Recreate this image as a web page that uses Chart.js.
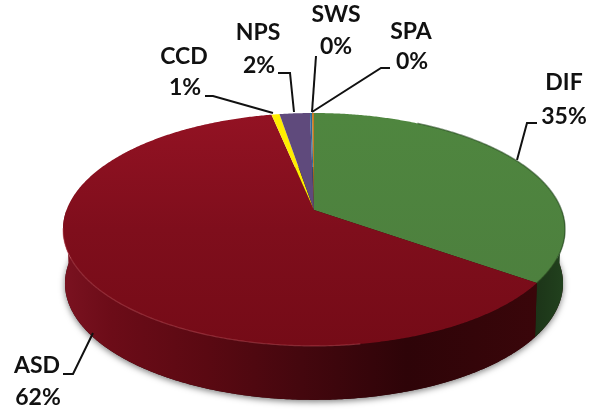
<!DOCTYPE html>
<html>
<head>
<meta charset="utf-8">
<style>html,body{margin:0;padding:0;background:#fff}canvas{display:block}</style>
<script src="https://cdn.jsdelivr.net/npm/chart.js@4"></script>
</head>
<body>
<canvas id="c" width="597" height="410"></canvas>
<script>
const categories = ['DIF', 'ASD', 'CCD', 'NPS', 'SWS', 'SPA'];
const shareValues = [34.9, 61.9, 0.6, 2.3, 0.15, 0.15];
const sliceColors = ['#4f843f', '#7f0e1c', '#ffee00', '#5f4a7c', '#2a6a9a', '#c77a20'];

// Label placement: text centres and leader-line vertices per category
const calloutLayout = {
  DIF: { name: [564, 83], pct: [564, 117], line: [[537, 123], [527, 123], [517, 160]] },
  ASD: { name: [37, 366], pct: [38, 398], line: [[63, 374], [73, 374], [93, 333]] },
  CCD: { name: [184, 57], pct: [185, 88], line: [[205, 96], [213, 96], [273, 113]] },
  NPS: { name: [258, 33], pct: [259, 66], line: [[278, 73], [290, 73], [294, 112]] },
  SWS: { name: [336, 15], pct: [336, 47], line: [[316, 56], [312, 112]] },
  SPA: { name: [411, 32], pct: [412, 62], line: [[390, 68], [381, 68], [312, 112]] }
};

// Projective map of the unit disc to the tilted pie
const view = { cx: 314, apexY: 210, A: 247.5, B: 113.2, p: 0.167, depth: 54, baseScale: 0.992 };
function project(theta, level) {
  const u = Math.sin(theta), v = Math.cos(theta), d = 1 + view.p * v;
  const s = level ? view.baseScale : 1;
  return [view.cx + s * view.A * u / d, view.apexY - view.B * v / d + (level ? view.depth : 0)];
}
function rim(ctx, a, b, level, move) {
  const n = Math.max(2, Math.ceil(Math.abs(b - a) / 0.008));
  for (let i = 0; i <= n; i++) {
    const p = project(a + (b - a) * i / n, level);
    if (i === 0 && move) ctx.moveTo(p[0], p[1]); else ctx.lineTo(p[0], p[1]);
  }
}

const pie3d = {
  id: 'pie3d',
  beforeDatasetDraw(chart, args) {
    const ctx = chart.ctx;
    const arcs = chart.getDatasetMeta(args.index).data;
    const angle = e => [e.startAngle + Math.PI / 2, e.endAngle + Math.PI / 2];
    const front0 = Math.PI * 0.5, front1 = Math.PI * 1.5;

    // soft shadow below the base
    ctx.save();
    ctx.shadowColor = 'rgba(0,0,0,0.5)';
    ctx.shadowBlur = 6;
    ctx.shadowOffsetY = 2;
    ctx.fillStyle = '#2b0407';
    ctx.beginPath();
    rim(ctx, 0, Math.PI * 2, 1, true);
    ctx.closePath();
    ctx.fill();
    ctx.restore();

    // side wall
    const redWall = ctx.createLinearGradient(64, 0, 540, 0);
    redWall.addColorStop(0, '#7a1220');
    redWall.addColorStop(0.1, '#6c0c18');
    redWall.addColorStop(0.3, '#5a0912');
    redWall.addColorStop(0.5, '#44070e');
    redWall.addColorStop(0.72, '#2e0408');
    redWall.addColorStop(1, '#3a060a');
    const greenWall = ctx.createLinearGradient(535, 0, 561, 0);
    greenWall.addColorStop(0, '#1c3418');
    greenWall.addColorStop(1, '#21401d');
    arcs.forEach((e, i) => {
      const [s0, e0] = angle(e);
      const a = Math.max(s0, front0), b = Math.min(e0, front1);
      if (b <= a) return;
      ctx.fillStyle = i === 0 ? greenWall : i === 1 ? redWall : sliceColors[i];
      ctx.beginPath();
      rim(ctx, a, b, 0, true);
      rim(ctx, b, a, 1, false);
      ctx.closePath();
      ctx.fill();
    });

    // top face
    const redTop = ctx.createLinearGradient(0, 113, 0, 346);
    redTop.addColorStop(0, '#931223');
    redTop.addColorStop(0.5, '#7f0e1c');
    redTop.addColorStop(1, '#750b17');
    const greenTop = ctx.createLinearGradient(0, 113, 0, 285);
    greenTop.addColorStop(0, '#4f863f');
    greenTop.addColorStop(1, '#4d803e');
    arcs.forEach((e, i) => {
      const [a, b] = angle(e);
      ctx.fillStyle = i === 0 ? greenTop : i === 1 ? redTop : sliceColors[i];
      ctx.beginPath();
      ctx.moveTo(view.cx, view.apexY);
      rim(ctx, a, b, 0, false);
      ctx.closePath();
      ctx.fill();
    });

    // rim highlight on the near edge, darker rim on the green side
    const [ra, rb] = angle(arcs[1]);
    ctx.strokeStyle = 'rgba(196,84,96,0.45)';
    ctx.lineWidth = 1.2;
    ctx.beginPath();
    rim(ctx, Math.max(ra, Math.PI * 0.95), Math.min(rb, Math.PI * 1.45), 0, true);
    ctx.stroke();
    const [ga, gb] = angle(arcs[0]);
    ctx.strokeStyle = 'rgba(35,70,30,0.55)';
    ctx.lineWidth = 1.5;
    ctx.beginPath();
    rim(ctx, ga + 0.5, gb, 0, true);
    ctx.stroke();

    // callouts
    ctx.save();
    ctx.strokeStyle = '#111';
    ctx.lineWidth = 2;
    ctx.lineJoin = 'miter';
    ctx.fillStyle = '#111';
    ctx.textAlign = 'center';
    ctx.textBaseline = 'middle';
    ctx.font = 'bold 23px Lato, "Open Sans", sans-serif';
    categories.forEach((name, i) => {
      const spot = calloutLayout[name];
      ctx.beginPath();
      spot.line.forEach((p, k) => k ? ctx.lineTo(p[0], p[1]) : ctx.moveTo(p[0], p[1]));
      ctx.stroke();
      ctx.fillText(name, spot.name[0], spot.name[1]);
      ctx.fillText(Math.round(shareValues[i]) + '%', spot.pct[0], spot.pct[1]);
    });
    ctx.restore();
    return false;
  }
};

new Chart(document.getElementById('c'), {
  type: 'pie',
  data: {
    labels: categories,
    datasets: [{ data: shareValues, backgroundColor: sliceColors, borderWidth: 0 }]
  },
  options: {
    responsive: false,
    animation: false,
    plugins: { legend: { display: false }, tooltip: { enabled: false } }
  },
  plugins: [pie3d]
});
</script>
</body>
</html>
